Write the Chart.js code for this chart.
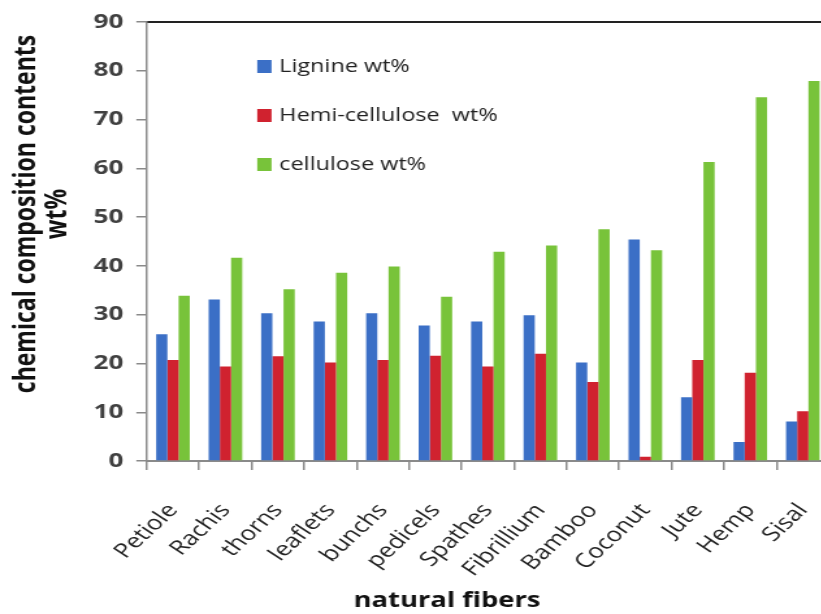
<!DOCTYPE html>
<html>
<head>
<meta charset="utf-8">
<script src="https://cdn.jsdelivr.net/npm/chart.js@4.4.1/dist/chart.umd.min.js"></script>
<style>
  html, body { margin: 0; padding: 0; background: #fff; overflow: hidden; }
  #wrap { width: 821px; height: 614px; overflow: hidden; }
  /* the original figure is stretched sideways, so the chart is drawn narrow and widened;
     its right end runs past the window, as in the original crop */
  #stretch { width: 666px; height: 614px; transform: scaleX(1.3); transform-origin: 0 0; }
  canvas { display: block; }
</style>
</head>
<body>
<div id="wrap"><div id="stretch"><canvas id="chart" width="666" height="614"></canvas></div></div>
<script>
const fibers = ['Petiole', 'Rachis', 'thorns', 'leaflets', 'bunchs', 'pedicels', 'Spathes',
	'Fibrillium', 'Bamboo', 'Coconut', 'Jute', 'Hemp', 'Sisal'];
const lignine = [26.0, 33.1, 30.3, 28.6, 30.3, 27.8, 28.6, 29.9, 20.2, 45.4, 13.1, 3.9, 8.1];
const hemiCellulose = [20.7, 19.4, 21.5, 20.2, 20.7, 21.6, 19.4, 22.0, 16.2, 0.9, 20.7, 18.1, 10.2];
const cellulose = [33.9, 41.7, 35.2, 38.6, 39.9, 33.7, 42.9, 44.2, 47.5, 43.2, 61.3, 74.6, 77.9];
const seriesNames = ['Lignine wt%', 'Hemi-cellulose  wt%', 'cellulose wt%'];
const seriesColors = ['#3b6fc6', '#d0222f', '#78c33a'];
const xTitle = 'natural fibers';
const yTitle = ['chemical composition contents', 'wt%'];

const axisGray = '#8a8a8a';
const font = '"Open Sans", sans-serif';

// legend sits inside the plot in the original
const innerLegend = {
	id: 'innerLegend',
	afterDraw(chart) {
		const { ctx, chartArea } = chart;
		const x = chartArea.left + 85;
		let y = chartArea.top + 44;
		ctx.save();
		ctx.font = '18px ' + font;
		ctx.textBaseline = 'middle';
		chart.data.datasets.forEach((ds) => {
			ctx.fillStyle = ds.backgroundColor;
			ctx.fillRect(x, y - 6, 11, 13);
			ctx.fillStyle = '#222';
			ctx.fillText(ds.label, x + 17, y + 1);
			y += 49;
		});
		ctx.restore();
	}
};

// axis titles are off-centre in the original, so they are placed by hand
const axisTitles = {
	id: 'axisTitles',
	afterDraw(chart) {
		const { ctx, chartArea } = chart;
		ctx.save();
		ctx.fillStyle = '#111';
		ctx.textAlign = 'center';
		ctx.textBaseline = 'middle';
		ctx.font = 'bold 21px ' + font;
		ctx.fillText(xTitle, chartArea.left + 231, chart.height - 13);

		ctx.font = 'bold 23px ' + font;
		ctx.translate(0, chartArea.top + 192);
		ctx.rotate(-Math.PI / 2);
		yTitle.forEach((line, i) => ctx.fillText(line, 0, 20 + i * 24));
		ctx.restore();
	}
};

new Chart(document.getElementById('chart'), {
	type: 'bar',
	data: {
		labels: fibers,
		datasets: [
			{ label: seriesNames[0], data: lignine, backgroundColor: seriesColors[0] },
			{ label: seriesNames[1], data: hemiCellulose, backgroundColor: seriesColors[1] },
			{ label: seriesNames[2], data: cellulose, backgroundColor: seriesColors[2] },
		]
	},
	options: {
		responsive: false,
		animation: false,
		devicePixelRatio: 1,
		layout: { padding: { top: 7, left: 62, right: 2, bottom: 4 } },
		datasets: { bar: { categoryPercentage: 0.64, barPercentage: 1.0 } },
		plugins: {
			legend: { display: false },
			tooltip: { enabled: false }
		},
		scales: {
			x: {
				grid: { offset: true, drawOnChartArea: false, drawTicks: true, tickLength: 9, color: axisGray, lineWidth: 1.5 },
				border: { color: axisGray, width: 2 },
				ticks: {
					minRotation: 50, maxRotation: 50, padding: 29,
					color: '#222', font: { family: font, size: 20 }
				}
			},
			x2: {
				position: 'top',
				type: 'category',
				grid: { display: true, drawOnChartArea: false, drawTicks: false },
				border: { color: '#222', width: 2 },
				ticks: { display: false }
			},
			y: {
				min: 0, max: 90,
				ticks: {
					stepSize: 10, padding: 10, color: '#404040',
					font: { family: font, size: 20, weight: 'bold' }
				},
				grid: { drawOnChartArea: false, drawTicks: true, tickLength: 8, color: axisGray, lineWidth: 1.5 },
				border: { color: axisGray, width: 1.5 }
			}
		}
	},
	plugins: [innerLegend, axisTitles]
});
</script>
</body>
</html>
